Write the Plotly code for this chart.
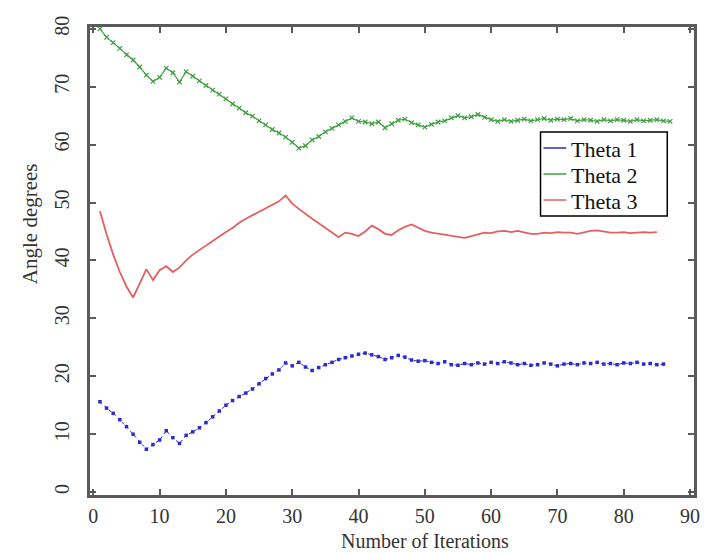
import plotly.graph_objects as go

theta1 = [15.6, 14.5, 13.6, 12.5, 11.3, 10.0, 8.6, 7.4, 8.2, 9.0,
          10.6, 9.4, 8.4, 9.8, 10.4, 11.1, 12.0, 13.0, 14.0, 15.0,
          15.8, 16.5, 17.1, 17.8, 18.7, 19.6, 20.4, 21.1, 22.3, 21.8,
          22.4, 21.6, 21.0, 21.5, 22.0, 22.4, 22.9, 23.2, 23.5, 23.8,
          24.0, 23.7, 23.4, 22.9, 23.2, 23.6, 23.3, 22.8, 22.6, 22.7,
          22.4, 22.2, 22.5, 22.0, 21.9, 22.2, 22.0, 22.3, 22.1, 22.4,
          22.2, 22.5, 22.3, 22.0, 22.2, 21.9, 22.0, 22.3, 22.1, 21.8,
          22.1, 22.2, 22.0, 22.3, 22.2, 22.4, 22.1, 22.2, 22.0, 22.3,
          22.2, 22.4, 22.1, 22.2, 22.0, 22.1]

theta2 = [80.0, 78.5, 77.6, 76.6, 75.5, 74.6, 73.4, 72.0, 70.9, 71.6,
          73.2, 72.4, 70.8, 72.6, 71.8, 71.0, 70.2, 69.4, 68.7, 67.9,
          67.0, 66.3, 65.5, 64.9, 64.1, 63.4, 62.6, 62.0, 61.3, 60.4,
          59.4, 59.8, 60.8, 61.4, 62.2, 62.8, 63.4, 64.0, 64.6, 64.0,
          63.9, 63.6, 63.9, 62.9, 63.6, 64.2, 64.4, 63.8, 63.4, 63.0,
          63.5, 63.9, 64.1, 64.6, 65.0, 64.6, 64.8, 65.2, 64.7, 64.3,
          64.0, 64.3, 64.0, 64.2, 64.4, 64.1, 64.3, 64.5, 64.2, 64.4,
          64.3, 64.5, 64.1, 64.3, 64.2, 64.0, 64.3, 64.1, 64.3, 64.2,
          64.0, 64.3, 64.1, 64.2, 64.3, 64.1, 64.0]

theta3 = [48.5, 44.5, 41.0, 38.0, 35.5, 33.6, 36.0, 38.5, 36.6, 38.3,
          39.0, 38.0, 38.8, 40.0, 41.0, 41.8, 42.6, 43.4, 44.2, 44.9,
          45.6, 46.5, 47.2, 47.8, 48.5, 49.0, 49.6, 50.2, 51.2, 49.8,
          48.9, 48.0, 47.2, 46.4, 45.6, 44.8, 44.0, 44.8, 44.6, 44.2,
          45.0, 46.0, 45.4, 44.6, 44.4, 45.2, 45.8, 46.2, 45.6, 45.1,
          44.8, 44.6, 44.4, 44.2, 44.0, 43.9, 44.2, 44.5, 44.8, 44.7,
          45.0, 45.1, 44.9, 45.1, 44.8, 44.6, 44.6, 44.8, 44.7, 44.9,
          44.8, 44.8, 44.6, 44.9, 45.1, 45.2, 45.0, 44.8, 44.8, 44.9,
          44.7, 44.8, 44.9, 44.8, 44.9]

names = ["Theta 1", "Theta 2", "Theta 3"]
x_ticks = [0, 10, 20, 30, 40, 50, 60, 70, 80, 90]
y_ticks = [0, 10, 20, 30, 40, 50, 60, 70, 80]

c1, c2, c3 = "#2a2ad0", "#3f9f3f", "#e46060"
colors = [c1, c2, c3]
serif = "Liberation Serif"

fig = go.Figure()
fig.add_trace(go.Scatter(x=list(range(1, len(theta1) + 1)), y=theta1, mode="lines+markers",
                         line=dict(color=c1, width=1, dash="dot"),
                         marker=dict(color=c1, size=3.5, symbol="square"), name=names[0],
                         showlegend=False))
fig.add_trace(go.Scatter(x=list(range(1, len(theta2) + 1)), y=theta2, mode="lines+markers",
                         line=dict(color=c2, width=1.2),
                         marker=dict(color=c2, size=4.5, symbol="x-thin", line=dict(color=c2, width=1.2)),
                         name=names[1], showlegend=False))
fig.add_trace(go.Scatter(x=list(range(1, len(theta3) + 1)), y=theta3, mode="lines",
                         line=dict(color=c3, width=1.8), name=names[2], showlegend=False))

axis_common = dict(showgrid=False, zeroline=False, showline=True, linecolor="#5a5a5a",
                   linewidth=3, mirror="ticks", ticks="inside", ticklen=6, tickwidth=2,
                   tickcolor="#5a5a5a", tickfont=dict(family=serif, size=20, color="#333333"))

fig.update_xaxes(range=[-0.5, 90.6], tickvals=x_ticks, ticktext=[str(v) for v in x_ticks],
                 ticklabelstandoff=1, **axis_common)
fig.update_yaxes(range=[-0.5, 80.3], tickvals=y_ticks, ticktext=[str(v) for v in y_ticks],
                 tickangle=-90, ticklabelstandoff=10, **axis_common)

fig.add_annotation(text="Number of Iterations", xref="paper", yref="paper", x=0.555,
                   y=-(541 - 495) / 468.0,
                   xanchor="center", yanchor="middle", showarrow=False,
                   font=dict(family=serif, size=20, color="#333333"))
fig.add_annotation(text="Angle degrees", xref="paper", yref="paper", x=-0.1, y=0.58,
                   xanchor="center", yanchor="middle", textangle=-90, showarrow=False,
                   font=dict(family=serif, size=21, color="#333333"))

# custom legend box (pixel positions converted to paper coordinates)
def px_x(p):
    return (p - 90) / 610.0

def px_y(p):
    return (495 - p) / 468.0

fig.add_shape(type="rect", xref="paper", yref="paper",
              x0=px_x(545), x1=px_x(673), y0=px_y(216), y1=px_y(132),
              line=dict(color="black", width=1.5), fillcolor="white", layer="above")
for i, (n, c) in enumerate(zip(names, colors)):
    yc = 148 + i * 26
    fig.add_shape(type="line", xref="paper", yref="paper",
                  x0=px_x(548), x1=px_x(571), y0=px_y(yc), y1=px_y(yc),
                  line=dict(color=c, width=1.5), layer="above")
    fig.add_annotation(text=n, xref="paper", yref="paper", x=px_x(574), y=px_y(yc + 1),
                       xanchor="left", yanchor="middle", showarrow=False,
                       font=dict(family=serif, size=22, color="#111111"))

fig.update_layout(
    width=707, height=554,
    margin=dict(l=90, r=7, t=27, b=59),
    plot_bgcolor="white", paper_bgcolor="white",
    showlegend=False,
)

fig.write_html("out.html")
